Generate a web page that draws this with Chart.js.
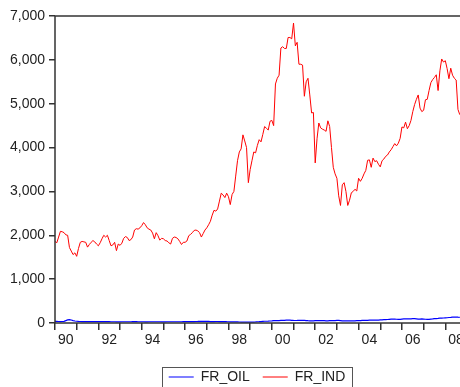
<!DOCTYPE html>
<html lang="en">
<head>
  <meta charset="UTF-8" />
  <title>FR_OIL and FR_IND</title>
  <style>
    html, body {
      margin: 0;
      padding: 0;
      background: #fff;
      overflow: hidden;
    }
    canvas {
      display: block;
    }
  </style>
</head>
<body>
  <canvas id="lineChart" width="470" height="394"></canvas>

  <script src="https://cdn.jsdelivr.net/npm/chart.js"></script>
  <script>
    // monthly data, 1990M01 .. 2008M09
    const startYear = 1990;
    const seriesNames = ['FR_OIL', 'FR_IND'];
    const yTicks = [0, 1000, 2000, 3000, 4000, 5000, 6000, 7000];

    const frOil = [
      35, 36, 34, 33, 34, 38, 55, 70, 75, 68, 55, 45,
      40, 36, 34, 33, 33, 32, 32, 33, 33, 34, 32, 30,
      30, 30, 31, 32, 32, 31, 30, 29, 28, 28, 27, 27,
      27, 28, 28, 28, 29, 29, 29, 30, 30, 30, 29, 28,
      28, 28, 27, 27, 28, 29, 29, 29, 28, 28, 28, 27,
      27, 27, 28, 29, 29, 29, 28, 28, 28, 29, 29, 30,
      30, 31, 32, 33, 33, 33, 34, 35, 37, 38, 37, 36,
      36, 35, 33, 33, 33, 34, 34, 33, 33, 33, 32, 30,
      29, 27, 25, 24, 25, 24, 23, 22, 21, 20, 21, 20,
      20, 20, 22, 25, 29, 30, 33, 37, 40, 40, 42, 45,
      48, 52, 56, 54, 56, 58, 60, 62, 66, 68, 64, 60,
      58, 57, 58, 60, 62, 60, 58, 56, 52, 50, 50, 50,
      52, 54, 55, 56, 54, 52, 50, 50, 52, 54, 56, 56,
      58, 60, 55, 50, 48, 48, 48, 50, 50, 50, 50, 52,
      54, 55, 58, 60, 62, 62, 64, 66, 68, 66, 64, 66,
      70, 72, 78, 76, 80, 84, 88, 90, 88, 86, 84, 84,
      88, 92, 96, 94, 92, 95, 98, 100, 96, 90, 90, 94,
      90, 85, 82, 84, 88, 92, 98, 100, 104, 110, 112, 114,
      118, 120, 126, 128, 132, 134, 136, 132, 130
    ];

    const frInd = [
      1860, 1830, 1960, 2090, 2080, 2060, 2010, 2000, 1720, 1640, 1560, 1600,
      1520, 1700, 1840, 1860, 1850, 1840, 1730, 1790, 1840, 1880, 1850, 1800,
      1760, 1830, 1920, 2000, 1960, 2000, 1880, 1760, 1780, 1840, 1650, 1800,
      1770, 1820, 1930, 1970, 1950, 1880, 1900, 1960, 2120, 2150, 2140, 2170,
      2220, 2290, 2240, 2170, 2140, 2120, 2050, 1920, 2060, 1990, 1890, 1930,
      1920, 1880, 1870, 1830, 1800, 1930, 1960, 1950, 1920, 1860, 1790, 1840,
      1840, 1870, 1990, 2020, 2060, 2110, 2120, 2100, 2060, 1960, 2040, 2120,
      2170, 2240, 2320, 2460, 2570, 2550, 2600, 2780, 2960, 2920, 2860, 2960,
      2880, 2700, 2930, 3000, 3350, 3700, 3900, 3970, 4290, 4150, 4000, 3200,
      3500, 3700, 3900, 3880, 4050, 4180, 4130, 4300, 4480, 4440, 4400, 4600,
      4620, 4500, 5450, 5580, 5650, 6270, 6300, 6260, 6260, 6510, 6510, 6480,
      6840, 6320, 6400, 5900, 5900, 5880, 5170, 5500, 5580, 5200, 4790, 4800,
      3650, 4200, 4560, 4450, 4420, 4400, 4370, 4610, 4480, 4000, 3550, 3400,
      3300, 2900, 2680, 3150, 3200, 3000, 2680, 2800, 2970, 3000, 3050, 3010,
      3300, 3230, 3300, 3400, 3480, 3710, 3720, 3550, 3760, 3680, 3700, 3620,
      3560, 3700, 3740, 3800, 3830, 3900, 3950, 4020, 4090, 4040, 4100, 4210,
      4470, 4450, 4580, 4430, 4500, 4620, 4820, 4980, 5100, 5200, 4900, 4820,
      4850, 5090, 5100, 5300, 5480, 5550, 5600, 5660, 5300, 5750, 6020, 5950,
      5980, 5800, 5570, 5810, 5650, 5580, 5540, 4870, 4750
    ];

    function toPoints(values) {
      return values.map((v, i) => ({ x: startYear + i / 12, y: v }));
    }

    // box round the plot and round the legend, like the eviews output
    const framePlugin = {
      id: 'frame',
      afterLayout(chart) {
        // legend sits a bit right of centre in the original
        chart.legend.left += 23.5;
        chart.legend.right += 23.5;
      },
      afterDraw(chart) {
        const { ctx, chartArea: a, legend } = chart;
        ctx.save();
        ctx.strokeStyle = '#333';
        ctx.lineWidth = 1.5;
        ctx.strokeRect(a.left, a.top, a.right - a.left, a.bottom - a.top);

        const boxes = legend.legendHitBoxes;
        if (boxes && boxes.length) {
          const left = Math.min(...boxes.map(b => b.left)) - 7;
          const right = Math.max(...boxes.map(b => b.left + b.width)) + 6;
          const top = boxes[0].top - 3;
          ctx.strokeStyle = '#555';
          ctx.lineWidth = 1;
          ctx.strokeRect(Math.round(left) + 0.5, Math.round(top) + 0.5,
            Math.round(right - left), chart.height);
        }
        ctx.restore();
      }
    };

    Chart.defaults.font.family = '"Liberation Sans", Arial, sans-serif';
    Chart.defaults.font.size = 14;
    Chart.defaults.color = '#222';

    const ctx = document.getElementById('lineChart').getContext('2d');
    new Chart(ctx, {
      type: 'line',
      data: {
        datasets: [
          {
            label: seriesNames[0],
            data: toPoints(frOil),
            borderColor: '#0000ff',
            borderWidth: 1.2
          },
          {
            label: seriesNames[1],
            data: toPoints(frInd),
            borderColor: '#ff0000',
            borderWidth: 1
          }
        ]
      },
      options: {
        responsive: false,
        animation: false,
        layout: {
          padding: { top: 16, right: 3, left: 0, bottom: 0 }
        },
        elements: {
          point: { radius: 0 },
          line: { tension: 0 }
        },
        scales: {
          x: {
            type: 'linear',
            min: 1990,
            max: 2009,
            afterFit: s => { s.height = 34; },
            border: { display: false },
            grid: {
              drawOnChartArea: false,
              drawTicks: true,
              tickLength: 7,
              color: '#333',
              lineWidth: 1.5
            },
            ticks: {
              stepSize: 1,
              autoSkip: false,
              maxRotation: 0,
              padding: 2,
              labelOffset: 10.8,
              callback: v => (v % 2 === 0 && v < 2009) ? String(v).slice(2) : ''
            }
          },
          y: {
            min: 0,
            max: 7000,
            afterFit: s => { s.width = 55; },
            afterBuildTicks: s => { s.ticks = yTicks.map(v => ({ value: v })); },
            border: { display: false },
            grid: {
              drawOnChartArea: false,
              drawTicks: true,
              tickLength: 6,
              color: '#333',
              lineWidth: 1.5
            },
            ticks: {
              padding: 4,
              callback: v => v.toLocaleString('en-US')
            }
          }
        },
        plugins: {
          tooltip: { enabled: false },
          legend: {
            position: 'bottom',
            labels: {
              usePointStyle: true,
              pointStyle: 'line',
              pointStyleWidth: 25,
              padding: 13,
              color: '#222'
            }
          }
        }
      },
      plugins: [framePlugin]
    });
  </script>
</body>
</html>
